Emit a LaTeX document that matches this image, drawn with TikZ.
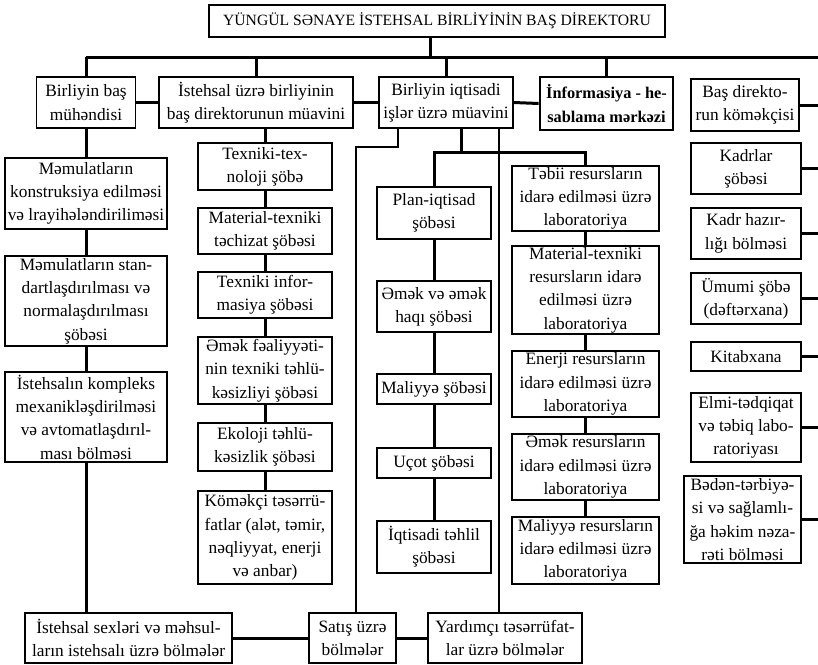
\documentclass[tikz,border=0pt]{standalone}
\usepackage{fontspec}
\setmainfont{Liberation Serif}
\usepackage{tikz}

\begin{document}
\begin{tikzpicture}[x=0.6pt,y=-0.6pt,
    box/.style={draw, line width=1.1pt, align=center, inner sep=0pt,
      font=\fontsize{10.4}{14}\selectfont},
    wh/.style 2 args={minimum width=#1*0.6pt, minimum height=#2*0.6pt},
    conn/.style={line width=1.8pt},
    thinline/.style={line width=0.7pt},
    midline/.style={line width=1.2pt}]
    \pgfmathsetmacro{\colA}{86}
    \pgfmathsetmacro{\colB}{265}
    \pgfmathsetmacro{\colC}{434}
    \pgfmathsetmacro{\colD}{585.5}
    \pgfmathsetmacro{\colE}{746}
    \pgfmathsetmacro{\rowA}{102.5}
    \pgfmathsetmacro{\rowZ}{638}
    \useasboundingbox (0,0) rectangle (818,664);

    % Top level
    \node[box, wh={456}{32}, font=\fontsize{9.4}{12}\selectfont] (dir) at (437,21)
      {YÜNGÜL SƏNAYE İSTEHSAL BİRLİYİNİN BAŞ DİREKTORU};

    % First row
    \node[box, wh={99}{51}] (eng) at (\colA,\rowA) {Birliyin baş\\mühəndisi};
    \node[box, wh={194}{51}] (prod) at (256,\rowA) {İstehsal üzrə birliyinin\\baş direktorunun müavini};
    \node[box, wh={134}{51}] (econ) at (446,\rowA) {Birliyin iqtisadi\\işlər üzrə müavini};
    \node[box, wh={133}{53}, line width=1.6pt, font=\bfseries\fontsize{9.8}{14}\selectfont] (info) at (606.5,103.5)
      {İnformasiya - he-\\sablama mərkəzi};
    \node[box, wh={108}{52}] (asst) at (745,105) {Baş direkto-\\run köməkçisi};

    % Left column
    \node[box, wh={162}{71}] (mamA) at (\colA,193.5) {Məmulatların\\konstruksiya edilməsi\\və lrayihələndirilimәsi};
    \node[box, wh={162}{90}] (mamB) at (\colA,301) {Məmulatların stan-\\dartlaşdırılması və\\normalaşdırılması\\şöbəsi};
    \node[box, wh={162}{90}] (mamC) at (\colA,417) {İstehsalın kompleks\\mexanikləşdirilməsi\\və avtomatlaşdırıl-\\ması bölməsi};

    % Second column
    \node[box, wh={134}{47}] (texA) at (\colB,166.5) {Texniki-tex-\\noloji şöbə};
    \node[box, wh={134}{46}] (texB) at (\colB,231) {Material-texniki\\təchizat şöbəsi};
    \node[box, wh={134}{46}] (texC) at (\colB,295) {Texniki infor-\\masiya şöbəsi};
    \node[box, wh={134}{67}] (texD) at (\colB,370.5) {Əmək fəaliyyəti-\\nin texniki təhlü-\\kəsizliyi şöbəsi};
    \node[box, wh={134}{48}] (texE) at (\colB,447) {Ekoloji təhlü-\\kəsizlik şöbəsi};
    \node[box, wh={134}{93}] (texF) at (\colB,537.5) {Köməkçi təsərrü-\\fatlar (alət, təmir,\\nəqliyyat, enerji\\və anbar)};

    % Economic departments
    \node[box, wh={114}{52}] (ecoA) at (\colC,213) {Plan-iqtisad\\şöbəsi};
    \node[box, wh={114}{51}] (ecoB) at (\colC,306.5) {Əmək və əmək\\haqı şöbəsi};
    \node[box, wh={114}{30}] (ecoC) at (\colC,389) {Maliyyə şöbəsi};
    \node[box, wh={114}{30}] (ecoD) at (\colC,463) {Uçot şöbəsi};
    \node[box, wh={114}{52}] (ecoE) at (\colC,547) {İqtisadi təhlil\\şöbəsi};

    % Laboratories
    \node[box, wh={147}{65}] (labA) at (\colD,198.5) {Təbii resursların\\idarə edilməsi üzrə\\laboratoriya};
    \node[box, wh={147}{88}] (labB) at (\colD,290) {Material-texniki\\resursların idarə\\edilməsi üzrə\\laboratoriya};
    \node[box, wh={147}{66}] (labC) at (\colD,384) {Enerji resursların\\idarə edilməsi üzrə\\laboratoriya};
    \node[box, wh={147}{66}] (labD) at (\colD,467) {Əmək resursların\\idarə edilməsi üzrə\\laboratoriya};
    \node[box, wh={147}{67}] (labE) at (\colD,550.5) {Maliyyə resursların\\idarə edilməsi üzrə\\laboratoriya};

    % Right column
    \node[box, wh={110}{51}] (kadr) at (\colE,168.5) {Kadrlar\\şöbəsi};
    \node[box, wh={110}{51}] (hazir) at (\colE,233.5) {Kadr hazır-\\lığı bölməsi};
    \node[box, wh={110}{51}] (umumi) at (\colE,298.5) {Ümumi şöbə\\(dəftərxana)};
    \node[box, wh={110}{29}] (kitab) at (\colE,356.5) {Kitabxana};
    \node[box, wh={110}{69}] (elmi) at (\colE,427.5) {Elmi-tədqiqat\\və təbiq labo-\\ratoriyası};
    \node[box, wh={117}{87}] (beden) at (742.5,519.5) {Bədən-tərbiyə-\\si və sağlamlı-\\ğa həkim nəza-\\rəti bölməsi};

    % Bottom row
    \node[box, wh={207}{50}] (sex) at (128.5,\rowZ) {İstehsal sexləri və məhsul-\\ların istehsalı üzrə bölmələr};
    \node[box, wh={87}{50}] (sales) at (352.5,\rowZ) {Satış üzrə\\bölmələr};
    \node[box, wh={154}{50}] (aux) at (505,\rowZ) {Yardımçı təsərrüfat-\\lar üzrə bölmələr};

    % Bus under the director
    \coordinate (busL) at (\colA,57);
    \coordinate (busM) at (430,57);
    \coordinate (edge) at (818,57);
    \draw [conn] (busL) -- (edge);
    \draw [conn] (dir.south -| busM) -- (busM);
    \draw [conn] (eng.north) -- (eng.north |- busL);
    \draw [conn] (prod.north) -- (prod.north |- busL);
    \draw [conn] (econ.north) -- (econ.north |- busL);
    \draw [conn] (info.north) -- (info.north |- busL);

    % First row links
    \draw [conn] (eng.east) -- (prod.west);
    \draw [conn] (prod.east) -- (econ.west);
    \draw [conn] (econ.east) -- (info.west);

    % Right column to the edge
    \draw [conn] (asst.east) -- (asst.east -| edge);
    \draw [conn] (kadr.east) -- (kadr.east -| edge);
    \draw [conn] (hazir.east) -- (hazir.east -| edge);
    \draw [conn] (umumi.east) -- (umumi.east -| edge);
    \draw [conn] (kitab.east) -- (kitab.east -| edge);
    \draw [conn] (elmi.east) -- (elmi.east -| edge);
    \draw [conn] (beden.east) -- (beden.east -| edge);

    % Left column
    \draw [conn] (eng.south) -- (mamA.north);
    \draw [conn] (mamA.south) -- (mamB.north);
    \draw [conn] (mamB.south) -- (mamC.north);
    \draw [conn] (mamC.south) -- (mamC.south |- sex.north);

    % Second column
    \draw [conn] (texA.north |- prod.south) -- (texA.north);
    \draw [conn] (texA.south) -- (texB.north);
    \draw [conn] (texB.south) -- (texC.north);
    \draw [conn] (texC.south) -- (texD.north);
    \draw [conn] (texD.south) -- (texE.north);
    \draw [conn] (texE.south) -- (texF.north);

    % Economic branch
    \coordinate (ecoBus) at (461,152);
    \draw [conn] (econ.south -| ecoBus) -- (ecoBus);
    \draw [conn] (ecoA.north) |- (ecoBus) -| (labA.north);
    \draw [conn] (ecoA.south) -- (ecoB.north);
    \draw [conn] (ecoB.south) -- (ecoC.north);
    \draw [conn] (ecoC.south) -- (ecoD.north);
    \draw [conn] (ecoD.south) -- (ecoE.north);
    \draw [conn] (labA.south) -- (labB.north);
    \draw [conn] (labB.south) -- (labC.north);
    \draw [conn] (labC.south) -- (labD.north);
    \draw [conn] (labD.south) -- (labE.north);

    % Sales and auxiliary units
    \coordinate (salesA) at (398,147);
    \coordinate (salesB) at (356,147);
    \coordinate (auxT) at (499,600);
    \draw [thinline] (econ.south -| salesA) -- (salesA) -- (salesB) -- (salesB |- sales.north);
    \draw [midline] (econ.south -| auxT) -- (auxT |- aux.north);

    % Bottom row links
    \draw [conn] (sex.east) -- (sales.west);
    \draw [conn] (sales.east) -- (aux.west);
\end{tikzpicture}
\end{document}
